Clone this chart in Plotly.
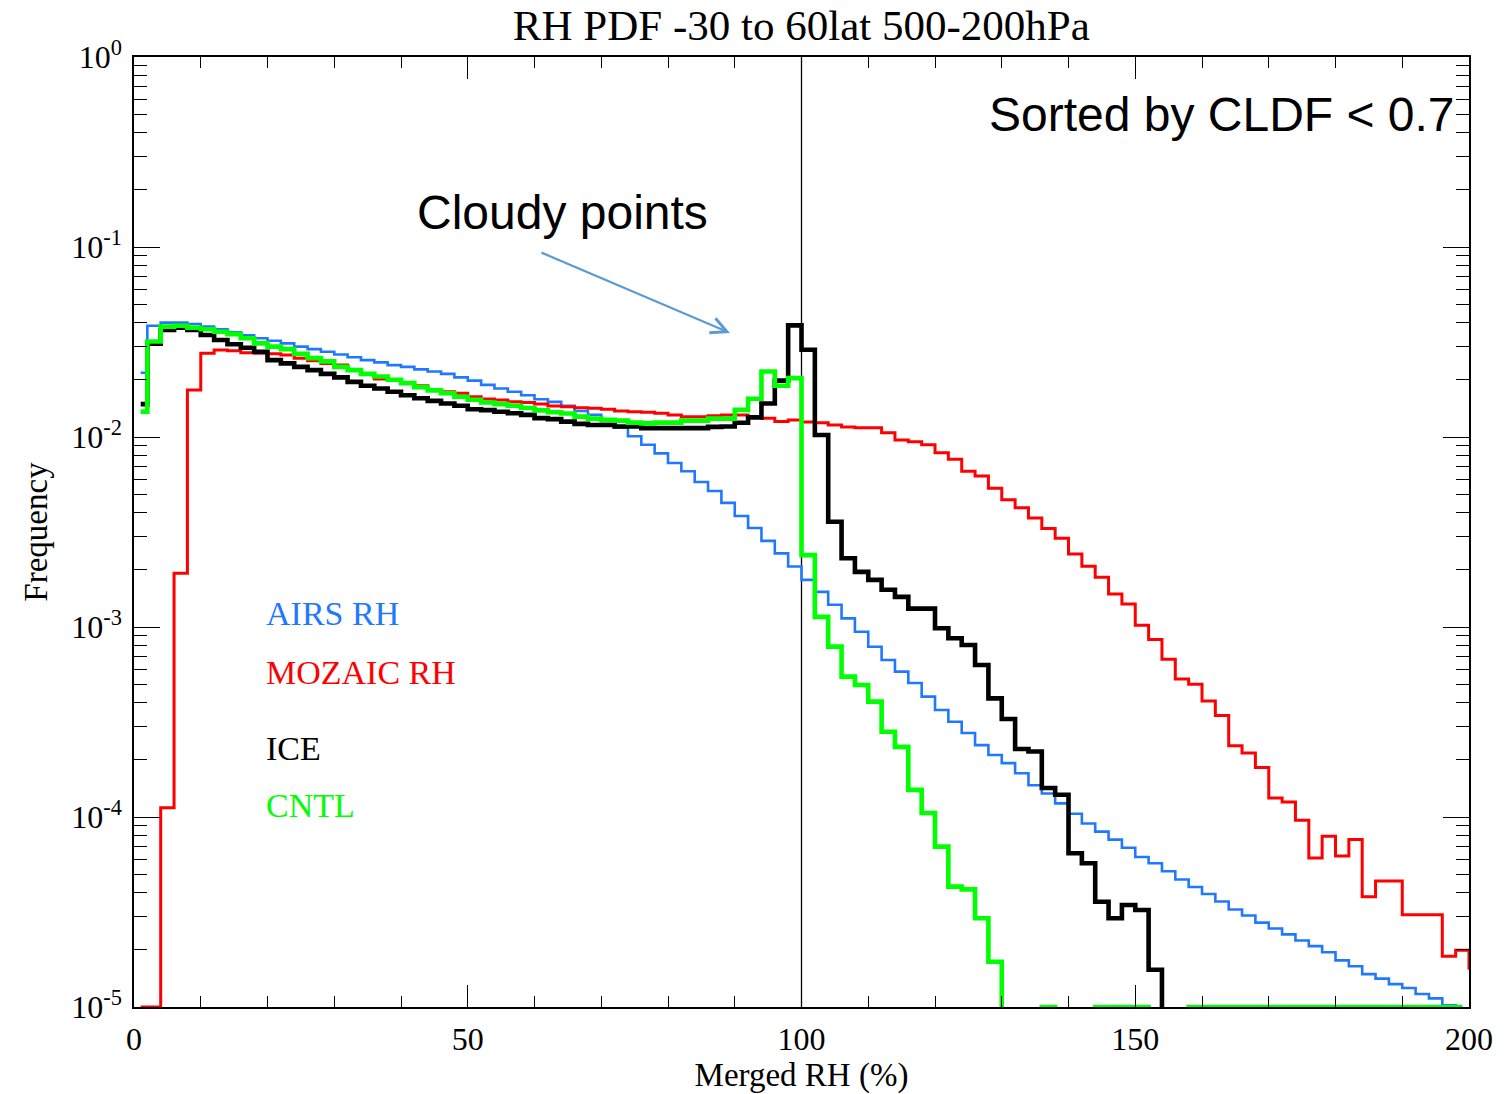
import plotly.graph_objects as go

# ---------------- data ----------------
# RH bins are 2 % wide; value = bin centre. Last bin (200-202) only exists for MOZAIC.
rh_bin_centers = list(range(1, 203, 2))

FLOOR = 1e-5   # value drawn on the bottom axis (clipped at 1e-5)
NIL = 1e-8     # empty bin (below the axis, not visible)

airs_rh = [
    0.0218, 0.0385, 0.0400, 0.0400, 0.0393, 0.0381, 0.0369, 0.0356, 0.0343, 0.0331,
    0.0321, 0.0311, 0.0299, 0.0290, 0.0281, 0.0272, 0.0263, 0.0254, 0.0247, 0.0239,
    0.0234, 0.0227, 0.0221, 0.0215, 0.0206, 0.0198, 0.0188, 0.0180, 0.0173, 0.0166,
    0.0158, 0.0153, 0.0146, 0.0137, 0.0131, 0.0121, 0.0112, 0.0101, 0.0091, 0.0082,
    0.0073, 0.0066, 0.0058, 0.0052, 0.0045, 0.00384, 0.00332, 0.00284, 0.00244, 0.00208,
    0.00177, 0.00153, 0.00131, 0.00111, 9.44e-4, 7.87e-4, 6.70e-4, 5.82e-4, 5.07e-4, 4.30e-4,
    3.66e-4, 3.17e-4, 2.77e-4, 2.39e-4, 2.12e-4, 1.92e-4, 1.70e-4, 1.47e-4, 1.33e-4, 1.18e-4,
    1.04e-4, 9.24e-5, 8.38e-5, 7.60e-5, 6.89e-5, 6.16e-5, 5.71e-5, 5.18e-5, 4.69e-5, 4.28e-5,
    3.93e-5, 3.59e-5, 3.26e-5, 3.03e-5, 2.78e-5, 2.59e-5, 2.41e-5, 2.24e-5, 2.09e-5, 1.94e-5,
    1.76e-5, 1.64e-5, 1.49e-5, 1.41e-5, 1.32e-5, 1.26e-5, 1.17e-5, 1.11e-5, 1.02e-5, FLOOR,
    None,
]

mozaic_rh = [
    FLOOR, FLOOR, 1.12e-4, 1.92e-3, 0.0177, 0.0276, 0.0287, 0.0284, 0.0278, 0.0276,
    0.0274, 0.0270, 0.0260, 0.0252, 0.0244, 0.0239, 0.0225, 0.0215, 0.0202, 0.0200,
    0.0192, 0.0186, 0.0178, 0.0173, 0.0170, 0.0163, 0.01585, 0.01567, 0.01535, 0.01517,
    0.01492, 0.01457, 0.01443, 0.01426, 0.01415, 0.01399, 0.01370, 0.01359, 0.01349, 0.01333,
    0.01305, 0.01279, 0.01279, 0.01295, 0.01305, 0.01305, 0.01279, 0.01254, 0.01208, 0.01228,
    0.0120, 0.0119, 0.01157, 0.0113, 0.0112, 0.0112, 0.01054, 0.00964, 0.00945, 0.00909,
    0.00826, 0.00763, 0.00661, 0.00623, 0.00537, 0.00468, 0.00424, 0.00375, 0.00330, 0.00293,
    0.00242, 0.00209, 0.00183, 0.00149, 0.00132, 0.00102, 8.59e-4, 6.76e-4, 5.32e-4, 5.00e-4,
    4.08e-4, 3.42e-4, 2.37e-4, 2.17e-4, 1.82e-4, 1.26e-4, 1.20e-4, 9.6e-5, 6.08e-5, 7.91e-5,
    6.23e-5, 7.62e-5, 3.80e-5, 4.61e-5, 4.61e-5, 3.06e-5, 3.06e-5, 3.06e-5, 1.85e-5, 1.99e-5,
    1.6e-5,
]

ice = [
    0.0149, 0.0310, 0.0366, 0.0376, 0.0366, 0.0344, 0.0324, 0.0308, 0.0295, 0.0281,
    0.0254, 0.0244, 0.0234, 0.0225, 0.0215, 0.0206, 0.0195, 0.0186, 0.0180, 0.0173,
    0.0166, 0.0160, 0.0155, 0.0150, 0.0146, 0.0140, 0.01385, 0.01358, 0.01334, 0.01307,
    0.01257, 0.01242, 0.01205, 0.01172, 0.01157, 0.01157, 0.01135, 0.01135, 0.01113, 0.01113,
    0.01113, 0.01113, 0.01113, 0.0113, 0.01135, 0.01189, 0.01269, 0.01502, 0.0198, 0.0387,
    0.0288, 0.01025, 3.58e-3, 2.30e-3, 1.95e-3, 1.77e-3, 1.57e-3, 1.44e-3, 1.25e-3, 1.25e-3,
    9.85e-4, 8.72e-4, 8.04e-4, 6.31e-4, 4.21e-4, 3.28e-4, 2.28e-4, 2.21e-4, 1.42e-4, 1.31e-4,
    6.44e-5, 5.71e-5, 3.58e-5, 2.93e-5, 3.44e-5, 3.24e-5, 1.57e-5, NIL, NIL, NIL,
    NIL, NIL, NIL, NIL, NIL, NIL, NIL, NIL, NIL, NIL,
    NIL, NIL, NIL, NIL, NIL, NIL, NIL, NIL, NIL, NIL,
    None,
]

cntl = [
    0.0136, 0.0318, 0.0381, 0.0385, 0.0376, 0.0369, 0.0358, 0.0348, 0.0331, 0.0311,
    0.0299, 0.0290, 0.0274, 0.0260, 0.0250, 0.0234, 0.0225, 0.0215, 0.0208, 0.0200,
    0.0192, 0.0183, 0.0176, 0.0170, 0.0163, 0.0157, 0.0152, 0.0149, 0.0146, 0.0142,
    0.0138, 0.0135, 0.0133, 0.0128, 0.0125, 0.0123, 0.0122, 0.0119, 0.0118, 0.0119,
    0.0119, 0.0122, 0.0122, 0.0125, 0.0125, 0.0139, 0.0159, 0.0221, 0.0186, 0.0204,
    2.39e-3, 1.13e-3, 7.88e-4, 5.48e-4, 4.95e-4, 4.05e-4, 2.81e-4, 2.34e-4, 1.39e-4, 1.05e-4,
    6.98e-5, 4.30e-5, 4.16e-5, 2.93e-5, 1.73e-5, NIL, NIL, NIL, FLOOR, NIL,
    NIL, NIL, FLOOR, FLOOR, FLOOR, FLOOR, NIL, NIL, NIL, FLOOR,
    FLOOR, FLOOR, FLOOR, FLOOR, FLOOR, FLOOR, FLOOR, FLOOR, FLOOR, FLOOR,
    FLOOR, FLOOR, FLOOR, FLOOR, FLOOR, FLOOR, FLOOR, FLOOR, FLOOR, FLOOR,
    None,
]

series_names = ["AIRS RH", "MOZAIC RH", "ICE", "CNTL"]
y_tick_vals = [1e-5, 1e-4, 1e-3, 1e-2, 1e-1, 1e0]
y_tick_text = ["10<sup>-5</sup>", "10<sup>-4</sup>", "10<sup>-3</sup>",
               "10<sup>-2</sup>", "10<sup>-1</sup>", "10<sup>0</sup>"]
x_tick_vals = [0, 50, 100, 150, 200]

# ---------------- styles ----------------
BLUE = "#1f78ff"
RED = "#ff0000"
BLACK = "#000000"
GREEN = "#00ff00"
SERIF = "Liberation Serif, Times New Roman, serif"
SANS = "Liberation Sans, Arial, sans-serif"

fig = go.Figure()
for name, vals, col, w in [
    (series_names[0], airs_rh, BLUE, 2.6),
    (series_names[1], mozaic_rh, RED, 3.0),
    (series_names[2], ice, BLACK, 4.6),
    (series_names[3], cntl, GREEN, 4.6),
]:
    fig.add_trace(go.Scatter(
        x=rh_bin_centers, y=vals, name=name, mode="lines",
        line=dict(color=col, width=w, shape="hvh"),
        connectgaps=False, showlegend=False, hoverinfo="skip",
    ))

minor_y = [k * 10.0 ** e for e in range(-5, 0) for k in range(2, 10)]

fig.update_layout(
    width=1509, height=1094,
    margin=dict(l=134, r=40, t=57, b=87, autoexpand=False),
    paper_bgcolor="white", plot_bgcolor="white",
    title=dict(text="RH PDF -30 to 60lat 500-200hPa", x=0.531, xanchor="center",
               y=1 - 25 / 1094, yanchor="middle", yref="container",
               font=dict(family=SERIF, size=43, color="black")),
    showlegend=False,
)

fig.update_xaxes(
    range=[0, 200], showgrid=False, zeroline=False, automargin=False,
    showline=True, linecolor="black", linewidth=1.5, mirror="ticks",
    ticks="inside", tickvals=x_tick_vals, ticklen=22, tickwidth=1.3, tickcolor="black",
    minor=dict(ticks="inside", dtick=10, tick0=0, ticklen=11, tickwidth=1.3,
               tickcolor="black", showgrid=False),
    tickfont=dict(family=SERIF, size=32, color="black"),
    ticklabelstandoff=3,
    title=dict(text="Merged RH (%)", standoff=7,
               font=dict(family=SERIF, size=33, color="black")),
)

fig.update_yaxes(
    type="log", range=[-5, 0], showgrid=False, zeroline=False, automargin=False,
    showline=True, linecolor="black", linewidth=1.5, mirror="ticks",
    ticks="inside", tickvals=y_tick_vals, ticktext=y_tick_text,
    ticklen=26, tickwidth=1.3, tickcolor="black",
    minor=dict(ticks="inside", tickvals=minor_y, ticklen=13, tickwidth=1.3,
               tickcolor="black", showgrid=False),
    tickfont=dict(family=SERIF, size=32, color="black"),
    ticklabelstandoff=4,
    title=dict(text="Frequency", standoff=14,
               font=dict(family=SERIF, size=33, color="black")),
)

# vertical reference line at RH = 100 %
fig.add_shape(type="line", x0=100, x1=100, y0=0, y1=1, xref="x", yref="paper",
              line=dict(color="black", width=1.3), layer="below")

# legend-like coloured labels
label_y = [0.4137, 0.3526, 0.2726, 0.2116]
for name, col, yy in zip(series_names, [BLUE, RED, BLACK, GREEN], label_y):
    fig.add_annotation(text=name, x=0.0974, y=yy, xref="paper", yref="paper",
                       xanchor="left", yanchor="middle", showarrow=False,
                       font=dict(family=SERIF, size=34, color=col))

fig.add_annotation(text="Cloudy points", x=0.3213, y=0.8368, xref="paper", yref="paper",
                   xanchor="center", yanchor="middle", showarrow=False,
                   font=dict(family=SANS, size=48, color="black"))
fig.add_annotation(text="Sorted by CLDF < 0.7", x=0.991, y=0.939, xref="paper", yref="paper",
                   xanchor="right", yanchor="middle", showarrow=False,
                   font=dict(family=SANS, size=48, color="black"))

# arrow pointing at the cloudy peak
fig.add_annotation(text="", x=0.4464, y=0.7095, xref="paper", yref="paper",
                   ax=-190, ay=-81, axref="pixel", ayref="pixel",
                   showarrow=True, arrowhead=5, arrowsize=1.4, arrowwidth=2.2,
                   arrowcolor="#5b9bd5", standoff=0)

fig.write_html("out.html")
